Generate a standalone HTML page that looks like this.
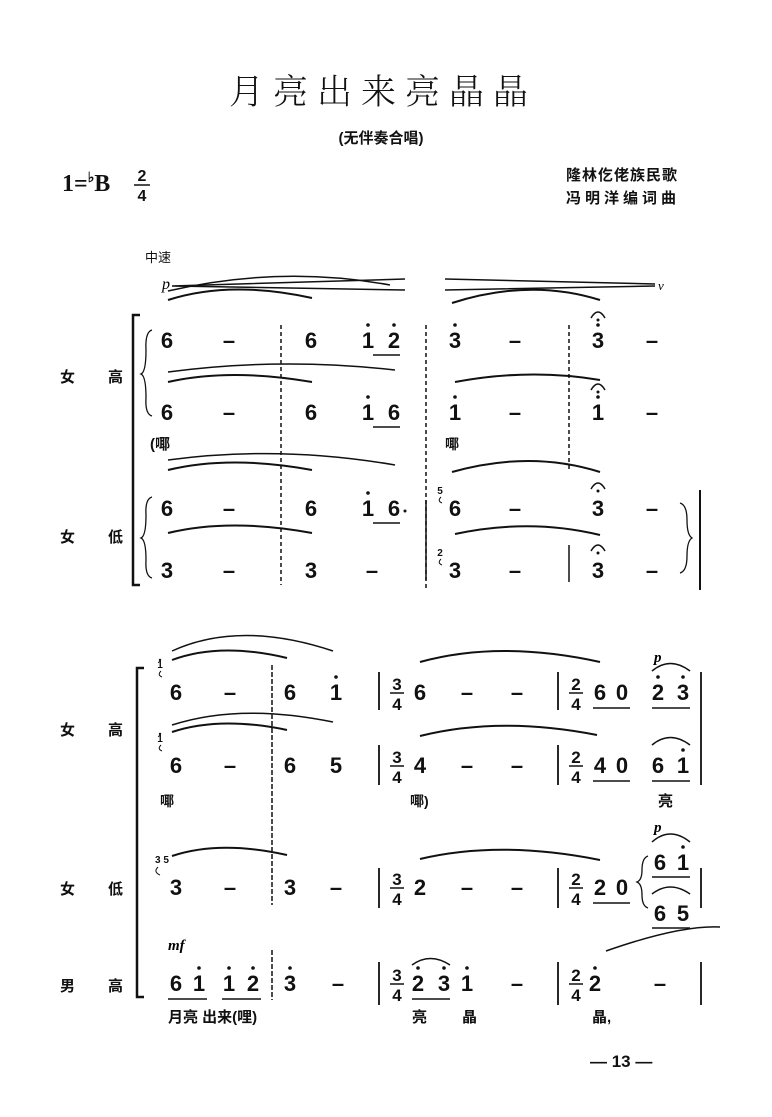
<!DOCTYPE html>
<html><head><meta charset="utf-8"><style>
html,body{margin:0;padding:0;background:#fff;}
svg{display:block;}
.n{font-family:"Liberation Sans",sans-serif;font-weight:bold;font-size:22px;text-anchor:middle;fill:#111;}
.c{font-family:"Liberation Sans","Noto Sans CJK SC",sans-serif;fill:#111;}
.s{fill:none;stroke:#111;stroke-width:2;}
.b{stroke:#111;stroke-width:1.5;}
</style></head><body>
<svg width="772" height="1117" viewBox="0 0 772 1117" xmlns="http://www.w3.org/2000/svg">
<text x="383" y="104" class="c" style="font-family:'Noto Serif CJK SC','Noto Sans CJK SC',serif;font-size:35px;font-weight:300;text-anchor:middle;letter-spacing:9px">月亮出来亮晶晶</text>
<text x="381" y="143" class="c" style="font-size:15px;text-anchor:middle;font-weight:bold">(无伴奏合唱)</text>
<text x="62" y="191" style="font-family:'Liberation Serif',serif;font-weight:bold;font-size:24px;fill:#111">1=<tspan font-size="14" dy="-9">♭</tspan><tspan dy="9">B</tspan></text>
<text x="142" y="181" class="n" style="font-size:16px">2</text><line x1="134" y1="185" x2="150" y2="185" class="b"/><text x="142" y="201" class="n" style="font-size:16px">4</text>
<text x="566" y="180" class="c" style="font-size:15px;font-weight:bold;letter-spacing:1px">隆林仡佬族民歌</text>
<text x="566" y="203" class="c" style="font-size:15px;font-weight:bold;letter-spacing:4px">冯明洋编词曲</text>
<text x="145" y="262" class="c" style="font-size:13px">中速</text>
<text x="162" y="289" style="font-family:'Liberation Serif',serif;font-style:italic;font-size:16px">p</text>
<path d="M172 286 L405 279 M172 286 L405 290 M445 279 L655 284 M445 290 L655 286" class="s" style="stroke-width:1.5"/>
<text x="658" y="290" style="font-family:'Liberation Serif',serif;font-style:italic;font-size:13px">ν</text>

<path d="M140 315 L133 315 L133 585 L140 585" class="s" style="stroke-width:2.5"/>
<text x="60" y="382" class="c" style="font-size:15px;font-weight:bold">女</text><text x="108" y="382" class="c" style="font-size:15px;font-weight:bold">高</text>
<text x="60" y="542" class="c" style="font-size:15px;font-weight:bold">女</text><text x="108" y="542" class="c" style="font-size:15px;font-weight:bold">低</text>
<path d="M152 330 Q145 332 146 350 Q146 372 141 374 Q146 376 146 398 Q145 414 152 416" class="s" style="stroke-width:1.3"/>
<path d="M152 497 Q145 499 146 515 Q146 536 141 538 Q146 540 146 560 Q145 576 152 578" class="s" style="stroke-width:1.3"/>
<path d="M680 503 Q687 505 687 520 Q687 535 692 538 Q687 541 687 556 Q687 571 680 573" class="s" style="stroke-width:1.3"/>
<line x1="700" y1="490" x2="700" y2="590" class="b" style="stroke-width:2"/>
<path d="M168 300 Q230 280 312 298" class="s"/><path d="M168 291 Q280 265 390 285" class="s" style="stroke-width:1.5"/>
<path d="M452 303 Q530 278 600 300" class="s"/>
<path d="M168 382 Q230 368 312 382" class="s"/><path d="M168 372 Q280 357 395 370" class="s" style="stroke-width:1.5"/>
<path d="M455 382 Q530 368 600 380" class="s"/>
<path d="M168 470 Q230 455 312 470" class="s"/><path d="M168 460 Q280 445 395 465" class="s" style="stroke-width:1.5"/>
<path d="M452 472 Q530 450 600 472" class="s"/>
<path d="M168 533 Q230 518 312 533" class="s"/><path d="M455 534 Q530 518 600 535" class="s"/>
<g class="n">
<text x="167" y="348">6</text><text x="229" y="348">–</text><text x="311" y="348">6</text><text x="368" y="348">1</text><text x="394" y="348">2</text><text x="455" y="348">3</text><text x="515" y="348">–</text><text x="598" y="348">3</text><text x="652" y="348">–</text>
<text x="167" y="420">6</text><text x="229" y="420">–</text><text x="311" y="420">6</text><text x="368" y="420">1</text><text x="394" y="420">6</text><text x="455" y="420">1</text><text x="515" y="420">–</text><text x="598" y="420">1</text><text x="652" y="420">–</text>
<text x="167" y="516">6</text><text x="229" y="516">–</text><text x="311" y="516">6</text><text x="368" y="516">1</text><text x="394" y="516">6</text><text x="455" y="516">6</text><text x="515" y="516">–</text><text x="598" y="516">3</text><text x="652" y="516">–</text>
<text x="167" y="578">3</text><text x="229" y="578">–</text><text x="311" y="578">3</text><text x="372" y="578">–</text><text x="455" y="578">3</text><text x="515" y="578">–</text><text x="598" y="578">3</text><text x="652" y="578">–</text>
</g>
<g fill="#111">
<circle cx="368" cy="325" r="1.8"/><circle cx="394" cy="325" r="1.8"/><circle cx="455" cy="325" r="1.8"/><circle cx="598" cy="325" r="1.8"/>
<circle cx="368" cy="397" r="1.8"/><circle cx="455" cy="397" r="1.8"/><circle cx="598" cy="397" r="1.8"/>
<circle cx="368" cy="493" r="1.8"/><circle cx="405" cy="511" r="1.5"/>
<circle cx="598" cy="320" r="1.5"/><circle cx="598" cy="392" r="1.5"/><circle cx="598" cy="491" r="1.5"/><circle cx="598" cy="553" r="1.5"/>
</g>
<path d="M591 318 Q598 306 605 318 M591 390 Q598 378 605 390 M591 489 Q598 477 605 489 M591 551 Q598 539 605 551" class="s" style="stroke-width:1.5"/>
<path d="M373 355 L400 355 M373 427 L400 427 M373 523 L400 523" class="s" style="stroke-width:1.5"/>
<text x="440" y="494" class="n" style="font-size:10px">5</text><text x="440" y="556" class="n" style="font-size:10px">2</text>
<path d="M441 497 q-4 4 1 6 M441 559 q-4 4 1 6" class="s" style="stroke-width:1"/>
<path d="M281 325 L281 585 M426 325 L426 590 M569 325 L569 470" class="b" style="stroke-dasharray:4 3"/>
<path d="M426 500 L426 580 M569 545 L569 582" class="b"/>
<text x="150" y="449" class="c" style="font-size:15px;font-weight:bold">(㖿</text>
<text x="445" y="449" class="c" style="font-size:14px;font-weight:bold">㖿</text>

<path d="M144 668 L137 668 L137 997 L144 997" class="s" style="stroke-width:2.5"/>
<text x="60" y="735" class="c" style="font-size:15px;font-weight:bold">女</text><text x="108" y="735" class="c" style="font-size:15px;font-weight:bold">高</text>
<text x="60" y="894" class="c" style="font-size:15px;font-weight:bold">女</text><text x="108" y="894" class="c" style="font-size:15px;font-weight:bold">低</text>
<text x="60" y="991" class="c" style="font-size:15px;font-weight:bold">男</text><text x="108" y="991" class="c" style="font-size:15px;font-weight:bold">高</text>
<path d="M172 651 Q240 620 333 651" class="s" style="stroke-width:1.5"/><path d="M172 660 Q220 642 287 658" class="s"/>
<path d="M420 662 Q500 640 600 662" class="s"/>
<path d="M172 725 Q240 703 333 722" class="s" style="stroke-width:1.5"/><path d="M172 732 Q220 716 287 730" class="s"/>
<path d="M420 736 Q500 716 597 735" class="s"/>
<path d="M172 856 Q220 840 287 855" class="s"/>
<path d="M420 859 Q500 840 600 860" class="s"/>
<path d="M606 951 Q680 925 720 927" class="s" style="stroke-width:1.5"/>
<g class="n">
<text x="176" y="700">6</text><text x="230" y="700">–</text><text x="290" y="700">6</text><text x="336" y="700">1</text><text x="420" y="700">6</text><text x="467" y="700">–</text><text x="517" y="700">–</text><text x="600" y="700">6</text><text x="622" y="700">0</text><text x="658" y="700">2</text><text x="683" y="700">3</text>
<text x="176" y="773">6</text><text x="230" y="773">–</text><text x="290" y="773">6</text><text x="336" y="773">5</text><text x="420" y="773">4</text><text x="467" y="773">–</text><text x="517" y="773">–</text><text x="600" y="773">4</text><text x="622" y="773">0</text><text x="658" y="773">6</text><text x="683" y="773">1</text>
<text x="176" y="895">3</text><text x="230" y="895">–</text><text x="290" y="895">3</text><text x="336" y="895">–</text><text x="420" y="895">2</text><text x="467" y="895">–</text><text x="517" y="895">–</text><text x="600" y="895">2</text><text x="622" y="895">0</text><text x="660" y="870">6</text><text x="683" y="870">1</text><text x="660" y="921">6</text><text x="683" y="921">5</text>
<text x="176" y="991">6</text><text x="199" y="991">1</text><text x="229" y="991">1</text><text x="253" y="991">2</text><text x="290" y="991">3</text><text x="338" y="991">–</text><text x="418" y="991">2</text><text x="444" y="991">3</text><text x="467" y="991">1</text><text x="517" y="991">–</text><text x="595" y="991">2</text><text x="660" y="991">–</text>
</g>
<g class="n" style="font-size:17px">
<text x="397" y="690">3</text><text x="397" y="710">4</text><text x="576" y="690">2</text><text x="576" y="710">4</text>
<text x="397" y="763">3</text><text x="397" y="783">4</text><text x="576" y="763">2</text><text x="576" y="783">4</text>
<text x="397" y="885">3</text><text x="397" y="905">4</text><text x="576" y="885">2</text><text x="576" y="905">4</text>
<text x="397" y="981">3</text><text x="397" y="1001">4</text><text x="576" y="981">2</text><text x="576" y="1001">4</text>
</g>
<path d="M390 693 L404 693 M569 693 L583 693 M390 766 L404 766 M569 766 L583 766 M390 888 L404 888 M569 888 L583 888 M390 984 L404 984 M569 984 L583 984" class="b"/>
<g fill="#111">
<circle cx="336" cy="677" r="1.8"/><circle cx="658" cy="677" r="1.8"/><circle cx="683" cy="677" r="1.8"/><circle cx="683" cy="750" r="1.8"/><circle cx="683" cy="847" r="1.8"/>
<circle cx="199" cy="968" r="1.8"/><circle cx="229" cy="968" r="1.8"/><circle cx="253" cy="968" r="1.8"/><circle cx="290" cy="968" r="1.8"/><circle cx="418" cy="968" r="1.8"/><circle cx="444" cy="968" r="1.8"/><circle cx="467" cy="968" r="1.8"/><circle cx="595" cy="968" r="1.8"/>
</g>
<path d="M652 671 Q670 656 690 671 M652 745 Q670 730 690 745 M652 842 Q670 826 690 842 M652 894 Q670 880 690 894 M412 965 Q430 952 450 965" class="s" style="stroke-width:1.5"/>
<path d="M593 708 L630 708 M652 708 L690 708 M593 781 L630 781 M652 781 L690 781 M593 903 L630 903 M652 877 L690 877 M652 928 L690 928 M168 999 L207 999 M222 999 L261 999 M412 999 L450 999" class="s" style="stroke-width:1.5"/>
<text x="160" y="668" class="n" style="font-size:10px">1</text><text x="160" y="742" class="n" style="font-size:10px">1</text><text x="162" y="863" class="n" style="font-size:10px">3 5</text>
<path d="M161 671 q-4 4 1 6 M161 745 q-4 4 1 6 M158 867 q-5 5 2 8" class="s" style="stroke-width:1"/>
<circle cx="160" cy="660" r="1.2" fill="#111"/><circle cx="160" cy="734" r="1.2" fill="#111"/>
<path d="M272 665 L272 905 M272 950 L272 1000" class="b" style="stroke-dasharray:5 2"/>
<path d="M379 672 L379 710 M379 745 L379 785 M379 868 L379 908 M379 962 L379 1005 M558 672 L558 710 M558 745 L558 785 M558 868 L558 908 M558 962 L558 1005 M701 672 L701 785 M701 868 L701 908 M701 962 L701 1005" class="b" style="stroke-width:1.8"/>
<path d="M648 856 Q642 858 642 870 Q642 880 637 882 Q642 884 642 895 Q642 906 648 908" class="s" style="stroke-width:1.3"/>
<text x="654" y="662" style="font-family:'Liberation Serif',serif;font-style:italic;font-weight:bold;font-size:15px">p</text>
<text x="654" y="832" style="font-family:'Liberation Serif',serif;font-style:italic;font-weight:bold;font-size:15px">p</text>
<text x="168" y="950" style="font-family:'Liberation Serif',serif;font-style:italic;font-weight:bold;font-size:15px">mf</text>
<text x="160" y="806" class="c" style="font-size:14px;font-weight:bold">㖿</text>
<text x="410" y="806" class="c" style="font-size:14px;font-weight:bold">㖿)</text>
<text x="658" y="806" class="c" style="font-size:15px;font-weight:bold">亮</text>
<text x="168" y="1022" class="c" style="font-size:15px;font-weight:bold">月亮 出来(哩)</text>
<text x="412" y="1022" class="c" style="font-size:15px;font-weight:bold">亮</text>
<text x="462" y="1022" class="c" style="font-size:15px;font-weight:bold">晶</text>
<text x="592" y="1022" class="c" style="font-size:15px;font-weight:bold">晶,</text>
<text x="590" y="1067" class="c" style="font-size:17px;font-weight:bold">— 13 —</text>
</svg>
</body></html>
